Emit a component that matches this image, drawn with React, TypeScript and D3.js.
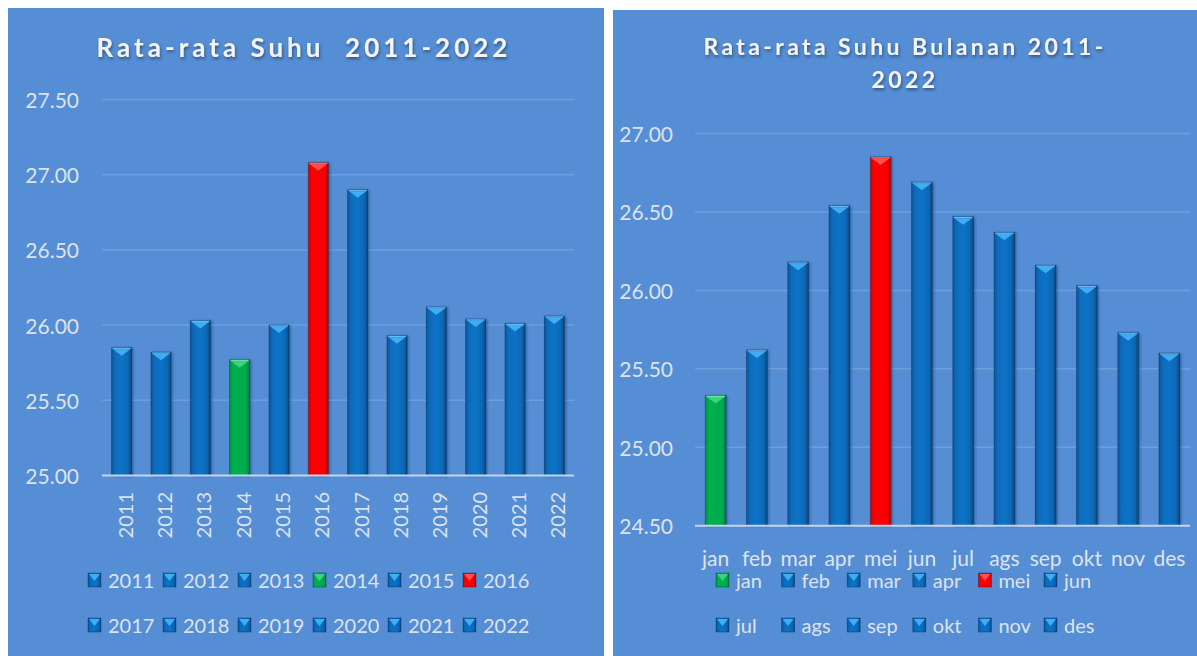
import React from "react";
import * as d3 from "d3";

const years = ["2011","2012","2013","2014","2015","2016","2017","2018","2019","2020","2021","2022"];
const yearValues = [25.85,25.82,26.03,25.77,26.0,27.08,26.9,25.93,26.12,26.04,26.01,26.06];
const yearTicks = [25, 25.5, 26, 26.5, 27, 27.5];

const months = ["jan","feb","mar","apr","mei","jun","jul","ags","sep","okt","nov","des"];
const monthValues = [25.33,25.62,26.18,26.54,26.85,26.69,26.47,26.37,26.16,26.03,25.73,25.6];
const monthTicks = [24.5, 25, 25.5, 26, 26.5, 27];

const BG = "#558ed5";
const LABEL = "#dde3ec";
const FONT = "Lato, 'Open Sans', sans-serif";

type Kind = "blue" | "red" | "green";
const kindOf = (vals: number[], i: number): Kind => {
  const mx = d3.max(vals)!;
  const mn = d3.min(vals)!;
  if (vals[i] === mx) return "red";
  if (vals[i] === mn) return "green";
  return "blue";
};

const palette: Record<Kind, { body: string; cap: string; capLight: string }> = {
  blue: { body: "url(#gBlue)", cap: "#42acf2", capLight: "#7fd0ff" },
  red: { body: "url(#gRed)", cap: "#ff4f4f", capLight: "#ff8c8c" },
  green: { body: "url(#gGreen)", cap: "#3ad47c", capLight: "#8af5b5" },
};

function Bar({ x, y, w, h, kind }: { x: number; y: number; w: number; h: number; kind: Kind }) {
  const p = palette[kind];
  const capH = Math.min(8, h / 2);
  return (
    <g filter="url(#barShadow)">
      <rect x={x} y={y} width={w} height={h} fill={p.body} />
      <rect x={x + 1} y={y} width={w - 2} height={1.5} fill={p.capLight} opacity={0.8} />
      <polygon
        points={`${x + 1.5},${y + 1.5} ${x + w - 1.5},${y + 1.5} ${x + w / 2},${y + capH}`}
        fill={p.cap}
      />
      <rect x={x} y={y} width={w} height={h} fill="none" stroke="rgba(0,30,70,0.4)" strokeWidth={0.8} />
    </g>
  );
}

function Marker({ x, y, kind }: { x: number; y: number; kind: Kind }) {
  const p = palette[kind];
  const w = 13, h = 14;
  return (
    <g>
      <rect x={x} y={y} width={w} height={h} fill={p.body} />
      <polygon points={`${x + 1},${y + 1} ${x + w - 1},${y + 1} ${x + w / 2},${y + 8}`} fill={p.cap} />
      <rect x={x} y={y} width={w} height={h} fill="none" stroke="rgba(0,30,70,0.4)" strokeWidth={0.8} />
    </g>
  );
}

export default function App() {
  const xL = d3.scaleBand<string>().domain(years).range([102, 574]).paddingInner(0.49).paddingOuter(0.245);
  const yL = d3.scaleLinear().domain([25, 27.5]).range([475.5, 99.5]);
  const xR = d3.scaleBand<string>().domain(months).range([695, 1190]).paddingInner(0.5).paddingOuter(0.25);
  const yR = d3.scaleLinear().domain([24.5, 27]).range([525.7, 133.5]);
  const fmt = d3.format(".2f");

  return (
    <svg
      width={1197}
      height={656}
      style={{ position: "absolute", left: 0, top: 0, display: "block" }}
      fontFamily={FONT}
    >
      <defs>
        <linearGradient id="gBlue" x1="0" x2="1" y1="0" y2="0">
          <stop offset="0" stopColor="#0b5595" />
          <stop offset="0.18" stopColor="#0a6cbd" />
          <stop offset="0.5" stopColor="#0a73c6" />
          <stop offset="0.82" stopColor="#0868b6" />
          <stop offset="1" stopColor="#07467f" />
        </linearGradient>
        <linearGradient id="gRed" x1="0" x2="1" y1="0" y2="0">
          <stop offset="0" stopColor="#d00000" />
          <stop offset="0.18" stopColor="#ff0000" />
          <stop offset="0.82" stopColor="#f80000" />
          <stop offset="1" stopColor="#b80000" />
        </linearGradient>
        <linearGradient id="gGreen" x1="0" x2="1" y1="0" y2="0">
          <stop offset="0" stopColor="#009040" />
          <stop offset="0.18" stopColor="#00b050" />
          <stop offset="0.82" stopColor="#00aa4c" />
          <stop offset="1" stopColor="#007a38" />
        </linearGradient>
        <filter id="barShadow" x="-30%" y="-10%" width="160%" height="120%">
          <feDropShadow dx="1.5" dy="0.5" stdDeviation="1" floodColor="#0a2a55" floodOpacity="0.45" />
        </filter>
        <filter id="titleShadow" x="-10%" y="-30%" width="120%" height="160%">
          <feDropShadow dx="1" dy="2" stdDeviation="1.5" floodColor="#1a2e4a" floodOpacity="0.6" />
        </filter>
      </defs>

      <rect x={0} y={0} width={1197} height={656} fill="#ffffff" />
      <rect x={8} y={8} width={596} height={648} fill={BG} />
      <rect x={613} y={10} width={584} height={646} fill={BG} />

      {/* LEFT CHART */}
      <text
        x={304}
        y={57}
        textAnchor="middle"
        fill="#f4f4f4"
        fontSize={26}
        fontWeight={700}
        letterSpacing={4}
        filter="url(#titleShadow)"
        style={{ whiteSpace: "pre" }}
      >
        {"Rata-rata Suhu  2011-2022"}
      </text>
      {yearTicks.map((t) => (
        <g key={"lt" + t}>
          {t !== 25 && (
            <line x1={102} x2={574} y1={yL(t)} y2={yL(t)} stroke="#ffffff" strokeOpacity={0.15} strokeWidth={1.5} />
          )}
          <text x={79} y={yL(t)} textAnchor="end" dominantBaseline="central" fill={LABEL} fontSize={21}>
            {fmt(t)}
          </text>
        </g>
      ))}
      {years.map((yr, i) => (
        <Bar
          key={yr}
          x={xL(yr)!}
          y={yL(yearValues[i])}
          w={xL.bandwidth()}
          h={yL(25) - yL(yearValues[i])}
          kind={kindOf(yearValues, i)}
        />
      ))}
      <line x1={102} x2={574} y1={yL(25)} y2={yL(25)} stroke="#c3d5ee" strokeWidth={2} />
      {years.map((yr) => {
        const cx = xL(yr)! + xL.bandwidth() / 2 + 3;
        return (
          <text
            key={"lx" + yr}
            transform={`translate(${cx},492) rotate(-90)`}
            textAnchor="end"
            dominantBaseline="central"
            fill={LABEL}
            fontSize={20}
          >
            {yr}
          </text>
        );
      })}
      {years.map((yr, i) => {
        const mx = 88 + (i % 6) * 75;
        const my = i < 6 ? 573 : 618;
        return (
          <g key={"ll" + yr}>
            <Marker x={mx} y={my} kind={kindOf(yearValues, i)} />
            <text x={mx + 20} y={my + 7} dominantBaseline="central" fill={LABEL} fontSize={20}>
              {yr}
            </text>
          </g>
        );
      })}

      {/* RIGHT CHART */}
      <text
        x={905}
        y={55}
        textAnchor="middle"
        fill="#f4f4f4"
        fontSize={23}
        fontWeight={700}
        letterSpacing={3.4}
        filter="url(#titleShadow)"
      >
        Rata-rata Suhu Bulanan 2011-
      </text>
      <text
        x={905}
        y={88}
        textAnchor="middle"
        fill="#f4f4f4"
        fontSize={23}
        fontWeight={700}
        letterSpacing={3.4}
        filter="url(#titleShadow)"
      >
        2022
      </text>
      {monthTicks.map((t) => (
        <g key={"rt" + t}>
          {t !== 24.5 && (
            <line x1={695} x2={1190} y1={yR(t)} y2={yR(t)} stroke="#ffffff" strokeOpacity={0.15} strokeWidth={1.5} />
          )}
          <text x={673} y={yR(t)} textAnchor="end" dominantBaseline="central" fill={LABEL} fontSize={21}>
            {fmt(t)}
          </text>
        </g>
      ))}
      {months.map((m, i) => (
        <Bar
          key={m}
          x={xR(m)!}
          y={yR(monthValues[i])}
          w={xR.bandwidth()}
          h={yR(24.5) - yR(monthValues[i])}
          kind={kindOf(monthValues, i)}
        />
      ))}
      <line x1={695} x2={1190} y1={yR(24.5)} y2={yR(24.5)} stroke="#c3d5ee" strokeWidth={2} />
      {months.map((m) => (
        <text
          key={"rx" + m}
          x={xR(m)! + xR.bandwidth() / 2}
          y={557}
          textAnchor="middle"
          dominantBaseline="central"
          fill={LABEL}
          fontSize={21}
        >
          {m}
        </text>
      ))}
      {months.map((m, i) => {
        const mx = 716 + (i % 6) * 65.6;
        const my = i < 6 ? 573 : 618;
        return (
          <g key={"rl" + m}>
            <Marker x={mx} y={my} kind={kindOf(monthValues, i)} />
            <text x={mx + 20} y={my + 7} dominantBaseline="central" fill={LABEL} fontSize={20}>
              {m}
            </text>
          </g>
        );
      })}
    </svg>
  );
}
